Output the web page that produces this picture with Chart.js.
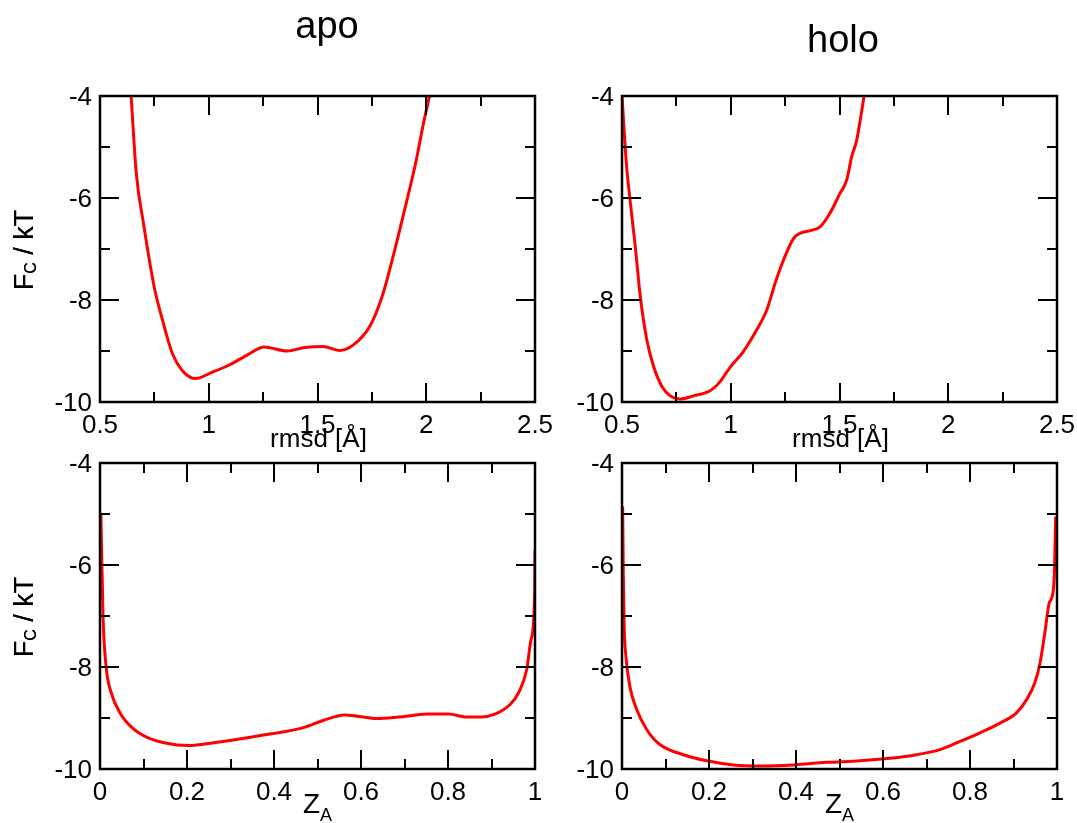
<!DOCTYPE html>
<html>
<head>
<meta charset="utf-8">
<script src="https://cdn.jsdelivr.net/npm/chart.js@4.4.0/dist/chart.umd.min.js"></script>
<style>
  html, body { margin: 0; padding: 0; background: #fff; }
  #wrap { position: relative; width: 1077px; height: 823px; }
  #wrap canvas { position: absolute; left: 0; top: 0; }
</style>
</head>
<body>
<div id="wrap">
  <canvas id="apoRmsd" width="1077" height="823"></canvas>
  <canvas id="holoRmsd" width="1077" height="823"></canvas>
  <canvas id="apoZ" width="1077" height="823"></canvas>
  <canvas id="holoZ" width="1077" height="823"></canvas>
</div>
<script>
// tick values
const rmsdTicks = [0.5, 1, 1.5, 2, 2.5];
const rmsdMinor = [0.75, 1.25, 1.75, 2.25];
const zTicks = [0, 0.2, 0.4, 0.6, 0.8, 1];
const zMinor = [0.1, 0.3, 0.5, 0.7, 0.9];
const fTicks = [-10, -8, -6, -4];
const fMinor = [-9, -7, -5];

// apo, F vs rmsd
const apoRmsdX = [0.643, 0.667, 0.70, 0.749, 0.791, 0.832, 0.882, 0.94, 1.014, 1.096, 1.18, 1.254, 1.36, 1.443, 1.526, 1.60, 1.665, 1.74, 1.797, 1.855, 1.904, 1.954, 1.987, 2.015];
const apoRmsdF = [-4.0, -5.52, -6.50, -7.74, -8.45, -9.04, -9.40, -9.54, -9.42, -9.27, -9.07, -8.92, -9.0, -8.93, -8.91, -8.99, -8.88, -8.52, -7.93, -7.02, -6.17, -5.26, -4.54, -4.0];

// holo, F vs rmsd
const holoRmsdX = [0.5, 0.52, 0.537, 0.561, 0.584, 0.614, 0.645, 0.683, 0.722, 0.768, 0.828, 0.905, 0.951, 0.997, 1.058, 1.12, 1.166, 1.204, 1.243, 1.289, 1.32, 1.366, 1.412, 1.456, 1.502, 1.533, 1.556, 1.579, 1.595, 1.613];
const holoRmsdF = [-4.0, -5.32, -6.04, -6.95, -7.93, -8.78, -9.30, -9.69, -9.88, -9.94, -9.88, -9.78, -9.60, -9.32, -9.01, -8.58, -8.19, -7.67, -7.21, -6.79, -6.69, -6.64, -6.56, -6.30, -5.91, -5.65, -5.19, -4.87, -4.48, -4.0];

// apo, F vs Z_A
const apoZX = [0.002, 0.007, 0.014, 0.026, 0.046, 0.075, 0.108, 0.150, 0.203, 0.249, 0.306, 0.372, 0.430, 0.471, 0.513, 0.562, 0.595, 0.637, 0.677, 0.719, 0.752, 0.801, 0.843, 0.876, 0.909, 0.942, 0.962, 0.981, 0.991, 0.9995, 1.0];
const apoZF = [-5.0, -7.01, -7.99, -8.51, -8.90, -9.20, -9.38, -9.49, -9.54, -9.50, -9.43, -9.34, -9.26, -9.18, -9.05, -8.94, -8.97, -9.01, -8.99, -8.95, -8.92, -8.92, -8.98, -8.98, -8.92, -8.74, -8.51, -8.05, -7.46, -6.48, -5.7];

// holo, F vs Z_A
const holoZX = [0.0015, 0.003, 0.005, 0.009, 0.018, 0.034, 0.057, 0.087, 0.141, 0.195, 0.256, 0.317, 0.394, 0.47, 0.547, 0.616, 0.677, 0.731, 0.777, 0.823, 0.869, 0.907, 0.930, 0.949, 0.961, 0.972, 0.982, 0.990, 0.994, 0.997];
const holoZF = [-4.85, -6.16, -7.2, -7.79, -8.38, -8.84, -9.23, -9.52, -9.72, -9.84, -9.92, -9.94, -9.92, -9.87, -9.84, -9.79, -9.72, -9.62, -9.46, -9.29, -9.10, -8.90, -8.64, -8.31, -7.92, -7.33, -6.75, -6.58, -6.16, -5.05];

const FONT = '"Liberation Sans", Arial, Helvetica, sans-serif';
const Y_AXIS_W = 80;
const X_AXIS_H = 50;

// frame, inward ticks on all sides, axis titles, panel title
const framePlugin = {
  id: 'frame',
  afterDraw(chart, args, opts) {
    const ctx = chart.ctx;
    const a = chart.chartArea;
    const xs = chart.scales.x, ys = chart.scales.y;
    ctx.save();
    ctx.strokeStyle = '#000';
    ctx.lineWidth = 2.5;
    ctx.strokeRect(a.left, a.top, a.right - a.left, a.bottom - a.top);
    ctx.lineWidth = 2;
    ctx.beginPath();
    const tickX = (vals, len) => vals.forEach(v => {
      const px = Math.round(xs.getPixelForValue(v));
      ctx.moveTo(px, a.bottom); ctx.lineTo(px, a.bottom - len);
      ctx.moveTo(px, a.top); ctx.lineTo(px, a.top + len);
    });
    const tickY = (vals, len) => vals.forEach(v => {
      const py = Math.round(ys.getPixelForValue(v));
      ctx.moveTo(a.left, py); ctx.lineTo(a.left + len, py);
      ctx.moveTo(a.right, py); ctx.lineTo(a.right - len, py);
    });
    tickX(opts.xMajor, 19); tickX(opts.xMinor, 10);
    tickY(fTicks, 19); tickY(fMinor, 10);
    ctx.stroke();

    ctx.fillStyle = '#000';
    const cx = (a.left + a.right) / 2;
    const cy = (a.top + a.bottom) / 2;

    // y title F_C / kT
    ctx.save();
    ctx.translate(33, cy + 1);
    ctx.rotate(-Math.PI / 2);
    ctx.textBaseline = 'alphabetic';
    ctx.textAlign = 'left';
    ctx.font = '27px ' + FONT;
    const wF = ctx.measureText('F').width;
    const wRest = ctx.measureText(' / kT').width;
    ctx.font = '16px ' + FONT;
    const wC = ctx.measureText('C').width;
    let x0 = -(wF + wC + wRest) / 2;
    ctx.font = '27px ' + FONT;
    ctx.fillText('F', x0, 0);
    ctx.font = '16px ' + FONT;
    ctx.fillText('C', x0 + wF, 3);
    ctx.font = '27px ' + FONT;
    ctx.fillText(' / kT', x0 + wF + wC, 0);
    ctx.restore();

    // x title
    ctx.textBaseline = 'alphabetic';
    ctx.textAlign = 'left';
    if (opts.xTitle === 'rmsd') {
      ctx.font = '26px ' + FONT;
      ctx.textAlign = 'center';
      ctx.fillText('rmsd [Å]', cx + 1, a.bottom + 45);
    } else {
      ctx.font = '28px ' + FONT;
      const wZ = ctx.measureText('Z').width;
      ctx.font = '18px ' + FONT;
      const wA = ctx.measureText('A').width;
      const z0 = cx - (wZ + wA) / 2;
      ctx.font = '28px ' + FONT;
      ctx.fillText('Z', z0, a.bottom + 44);
      ctx.font = '18px ' + FONT;
      ctx.fillText('A', z0 + wZ, a.bottom + 52);
    }

    // panel title
    if (opts.title) {
      ctx.font = '38px ' + FONT;
      ctx.textAlign = 'center';
      ctx.fillText(opts.title, opts.titleX, opts.titleY);
    }
    ctx.restore();
  }
};

function makePanel(id, xs, ys, xMin, xMax, xMajor, xMinor, frameBox, frameOpts) {
  const pts = xs.map((x, i) => ({ x: x, y: ys[i] }));
  // frameBox = plot frame edges in page pixels
  const pad = {
    left: frameBox.left - Y_AXIS_W,
    top: frameBox.top,
    right: 1077 - frameBox.right,
    bottom: 823 - frameBox.bottom - X_AXIS_H
  };
  return new Chart(document.getElementById(id), {
    type: 'line',
    data: {
      datasets: [{
        data: pts,
        borderColor: '#ff0000',
        borderWidth: 3,
        pointRadius: 0,
        fill: false,
        cubicInterpolationMode: 'monotone'
      }]
    },
    options: {
      responsive: false,
      animation: false,
      devicePixelRatio: 1,
      layout: { padding: pad },
      plugins: {
        legend: { display: false },
        tooltip: { enabled: false },
        frame: Object.assign({ xMajor: xMajor, xMinor: xMinor }, frameOpts)
      },
      scales: {
        x: {
          type: 'linear',
          min: xMin, max: xMax,
          grid: { display: false, drawTicks: false },
          border: { display: false },
          afterFit: s => { s.height = X_AXIS_H; s.paddingLeft = 0; s.paddingRight = 0; },
          afterBuildTicks: s => { s.ticks = xMajor.map(v => ({ value: v })); },
          ticks: {
            padding: 8,
            color: '#000',
            font: { family: FONT, size: 26 },
            maxRotation: 0,
            autoSkip: false,
            callback: v => String(v)
          }
        },
        y: {
          type: 'linear',
          min: -10, max: -4,
          grid: { display: false, drawTicks: false },
          border: { display: false },
          afterFit: s => { s.width = Y_AXIS_W; s.paddingTop = 0; s.paddingBottom = 0; },
          afterBuildTicks: s => { s.ticks = fTicks.map(v => ({ value: v })); },
          ticks: {
            padding: 8,
            labelOffset: 2,
            color: '#000',
            font: { family: FONT, size: 26 },
            autoSkip: false,
            callback: v => String(v)
          }
        }
      }
    },
    plugins: [framePlugin]
  });
}

makePanel('apoRmsd', apoRmsdX, apoRmsdF, 0.5, 2.5, rmsdTicks, rmsdMinor,
  { left: 100, top: 96, right: 535, bottom: 402 },
  { xTitle: 'rmsd', title: 'apo', titleX: 327, titleY: 38 });
makePanel('holoRmsd', holoRmsdX, holoRmsdF, 0.5, 2.5, rmsdTicks, rmsdMinor,
  { left: 622, top: 96, right: 1057, bottom: 402 },
  { xTitle: 'rmsd', title: 'holo', titleX: 843, titleY: 52 });
makePanel('apoZ', apoZX, apoZF, 0, 1, zTicks, zMinor,
  { left: 100, top: 463, right: 535, bottom: 769 },
  { xTitle: 'z' });
makePanel('holoZ', holoZX, holoZF, 0, 1, zTicks, zMinor,
  { left: 622, top: 463, right: 1057, bottom: 769 },
  { xTitle: 'z' });
</script>
</body>
</html>
